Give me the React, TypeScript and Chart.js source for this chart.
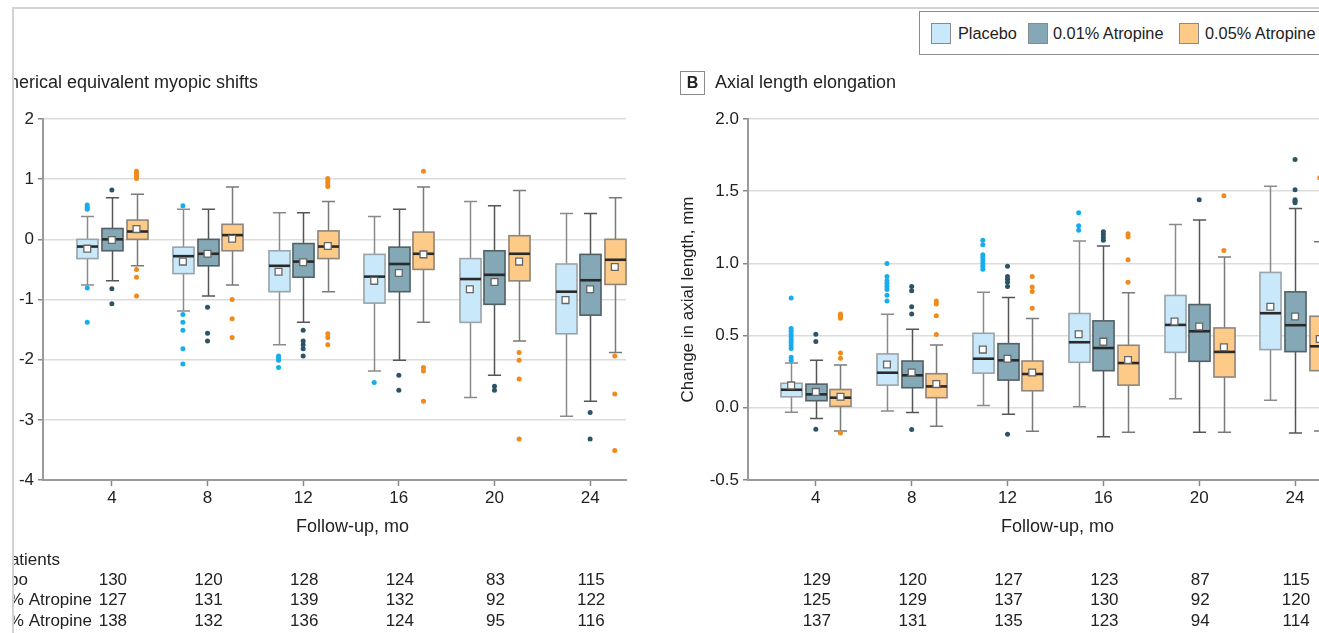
import React, { useEffect, useRef } from "react";
import { Chart, registerables } from "chart.js";
Chart.register(...registerables);

const FONT = '"Liberation Sans", Arial, sans-serif';

// ---------- shared categories ----------
const MONTHS = [4, 8, 12, 16, 20, 24];
const GROUPS = ["Placebo", "0.01% Atropine", "0.05% Atropine"];
const GROUP_OFFSETS = [-1.03, 0, 1.03];
const PATIENT_ROW_LABELS = ["Placebo", "0.01% Atropine", "0.05% Atropine"];
const X_TITLE = "Follow-up, mo";

// ---------- Panel A: spherical equivalent myopic shifts ----------
// box = [lower whisker, Q1, median, Q3, upper whisker]
const seBoxPlacebo = [
  [-0.76, -0.32, -0.12, 0.0, 0.38],
  [-1.19, -0.57, -0.28, -0.13, 0.5],
  [-1.75, -0.87, -0.44, -0.19, 0.44],
  [-2.19, -1.06, -0.62, -0.25, 0.38],
  [-2.63, -1.38, -0.66, -0.32, 0.63],
  [-2.94, -1.57, -0.87, -0.41, 0.43],
];
const seMeanPlacebo = [-0.155, -0.37, -0.54, -0.69, -0.83, -1.01];
const seOutPlacebo = [
  [0.57, 0.53, 0.5, -0.81, -1.38],
  [0.56, -1.25, -1.38, -1.51, -1.82, -2.07],
  [-1.94, -1.98, -2.01, -2.13],
  [-2.38],
  [],
  [],
];
const seBoxLow = [
  [-0.69, -0.19, 0.0, 0.18, 0.69],
  [-0.94, -0.44, -0.24, 0.0, 0.5],
  [-1.38, -0.63, -0.37, -0.07, 0.44],
  [-2.01, -0.87, -0.41, -0.13, 0.5],
  [-2.26, -1.08, -0.59, -0.19, 0.56],
  [-2.69, -1.26, -0.68, -0.25, 0.43],
];
const seMeanLow = [-0.01, -0.24, -0.38, -0.56, -0.71, -0.83];
const seOutLow = [
  [0.82, -0.82, -1.07],
  [-1.13, -1.56, -1.69],
  [-1.51, -1.69, -1.75, -1.82, -1.94],
  [-2.26, -2.51],
  [-2.44, -2.51],
  [-2.88, -3.32],
];
const seBoxHigh = [
  [-0.44, 0.0, 0.13, 0.32, 0.75],
  [-0.76, -0.19, 0.07, 0.25, 0.87],
  [-0.87, -0.32, -0.12, 0.14, 0.63],
  [-1.38, -0.5, -0.24, 0.12, 0.87],
  [-1.69, -0.69, -0.24, 0.06, 0.81],
  [-1.88, -0.75, -0.34, 0.0, 0.69],
];
const seMeanHigh = [0.17, 0.01, -0.11, -0.25, -0.37, -0.46];
const seOutHigh = [
  [1.13, 1.09, 1.05, 1.01, -0.5, -0.63, -0.94],
  [-1.0, -1.32, -1.63],
  [1.01, 0.96, 0.92, 0.88, -1.57, -1.63, -1.75],
  [1.13, -2.13, -2.19, -2.69],
  [-1.88, -2.01, -2.32, -3.32],
  [-1.94, -2.57, -3.51],
];
const seNPlacebo = [130, 120, 128, 124, 83, 115];
const seNLow = [127, 131, 139, 132, 92, 122];
const seNHigh = [138, 132, 136, 124, 95, 116];
const seYTicks = [-4, -3, -2, -1, 0, 1, 2];

// ---------- Panel B: axial length elongation ----------
const alBoxPlacebo = [
  [-0.03, 0.076, 0.125, 0.17, 0.31],
  [-0.023, 0.157, 0.243, 0.373, 0.648],
  [0.016, 0.24, 0.34, 0.516, 0.8],
  [0.007, 0.315, 0.454, 0.653, 1.155],
  [0.0625, 0.384, 0.574, 0.778, 1.27],
  [0.053, 0.403, 0.655, 0.9375, 1.535],
];
const alMeanPlacebo = [0.155, 0.3, 0.403, 0.509, 0.597, 0.7];
const alOutPlacebo = [
  [0.76, 0.55, 0.53, 0.51, 0.49, 0.47, 0.45, 0.43, 0.41, 0.35, 0.33],
  [1.0, 0.91, 0.88, 0.86, 0.84, 0.82, 0.78, 0.74],
  [1.16, 1.13, 1.06, 1.04, 1.02, 1.0, 0.98, 0.96],
  [1.35, 1.26, 1.23],
  [],
  [],
];
const alBoxLow = [
  [-0.074, 0.049, 0.093, 0.164, 0.33],
  [-0.032, 0.139, 0.225, 0.324, 0.544],
  [-0.044, 0.192, 0.329, 0.444, 0.764],
  [-0.201, 0.257, 0.414, 0.602, 1.12],
  [-0.169, 0.322, 0.53, 0.715, 1.3],
  [-0.174, 0.389, 0.572, 0.803, 1.38],
];
const alMeanLow = [0.11, 0.245, 0.34, 0.458, 0.5625, 0.632];
const alOutLow = [
  [0.51, 0.46, -0.148],
  [0.84, 0.81, 0.7, 0.65, -0.15],
  [0.98, 0.91, 0.89, 0.87, 0.84, -0.183],
  [1.22, 1.2, 1.18, 1.16],
  [1.44],
  [1.72, 1.51, 1.44, 1.43, 1.42],
];
const alBoxHigh = [
  [-0.16, 0.01, 0.07, 0.127, 0.296],
  [-0.127, 0.07, 0.148, 0.236, 0.435],
  [-0.162, 0.118, 0.234, 0.324, 0.618],
  [-0.169, 0.157, 0.31, 0.433, 0.796],
  [-0.169, 0.213, 0.387, 0.553, 1.044],
  [-0.16, 0.257, 0.426, 0.634, 1.15],
];
const alMeanHigh = [0.076, 0.164, 0.245, 0.331, 0.419, 0.477];
const alOutHigh = [
  [0.65, 0.635, 0.62, 0.38, 0.343, -0.174],
  [0.74, 0.718, 0.637, 0.507],
  [0.91, 0.836, 0.806, 0.69],
  [1.206, 1.185, 1.025, 0.87],
  [1.468, 1.09],
  [1.593],
];
const alNPlacebo = [129, 120, 127, 123, 87, 115];
const alNLow = [125, 129, 137, 130, 92, 120];
const alNHigh = [137, 131, 135, 123, 94, 114];
const alYTicks = [-0.5, 0, 0.5, 1.0, 1.5, 2.0];

// ---------- styles ----------
const STYLE = [
  { fill: "#c9e9fb", stroke: "#9aa3a8", whisker: "#8a8a8a", dot: "#17acef" },
  { fill: "#84a8b6", stroke: "#536066", whisker: "#555", dot: "#2b5566" },
  { fill: "#fdca88", stroke: "#8f8578", whisker: "#7a7a7a", dot: "#ef8a1b" },
];
const BOX_W = 0.88;
const CAP_W = 0.55;

type Group = { boxes: number[][]; means: number[]; outliers: number[][]; n: number[] };
type Panel = {
  groups: Group[];
  yMin: number;
  yMax: number;
  yTicks: number[];
  decimals: number;
  xMin: number;
  xMax: number;
  yAxisWidth: number;
  yTitle: string | null;
  padRight: number;
  rowLabels: boolean;
};

const panelA: Panel = {
  groups: [
    { boxes: seBoxPlacebo, means: seMeanPlacebo, outliers: seOutPlacebo, n: seNPlacebo },
    { boxes: seBoxLow, means: seMeanLow, outliers: seOutLow, n: seNLow },
    { boxes: seBoxHigh, means: seMeanHigh, outliers: seOutHigh, n: seNHigh },
  ],
  yMin: -4,
  yMax: 2,
  yTicks: seYTicks,
  decimals: 0,
  xMin: 1.12,
  xMax: 25.5,
  yAxisWidth: 43,
  yTitle: null,
  padRight: 24,
  rowLabels: true,
};
const panelB: Panel = {
  groups: [
    { boxes: alBoxPlacebo, means: alMeanPlacebo, outliers: alOutPlacebo, n: alNPlacebo },
    { boxes: alBoxLow, means: alMeanLow, outliers: alOutLow, n: alNLow },
    { boxes: alBoxHigh, means: alMeanHigh, outliers: alOutHigh, n: alNHigh },
  ],
  yMin: -0.5,
  yMax: 2,
  yTicks: alYTicks,
  decimals: 1,
  xMin: 1.17,
  xMax: 25.5,
  yAxisWidth: 78,
  yTitle: "Change in axial length, mm",
  padRight: 9,
  rowLabels: false,
};

const CANVAS_TOP = 60; // page y of canvases
const ROW_Y = [520, 540.5, 561]; // canvas y of patient rows
const HEADER_Y = 500;
const X_TITLE_Y = 467;
const X_TITLE_SHIFT = 18;

function buildConfig(p: Panel): any {
  const datasets: any[] = [];
  p.groups.forEach((g, gi) => {
    const pts: { x: number; y: number }[] = [];
    g.outliers.forEach((arr, i) => arr.forEach((v) => pts.push({ x: MONTHS[i] + GROUP_OFFSETS[gi], y: v })));
    datasets.push({
      label: GROUPS[gi] + " outliers",
      data: pts,
      pointRadius: 2.5,
      pointBackgroundColor: STYLE[gi].dot,
      pointBorderWidth: 0,
      showLine: false,
    });
  });
  p.groups.forEach((g, gi) => {
    datasets.push({
      label: GROUPS[gi] + " mean",
      data: g.means.map((v, i) => ({ x: MONTHS[i] + GROUP_OFFSETS[gi], y: v })),
      pointStyle: "rect",
      pointRadius: 4.8,
      pointBackgroundColor: "#ffffff",
      pointBorderColor: "#666",
      pointBorderWidth: 1.3,
      showLine: false,
    });
  });

  const boxPlugin = {
    id: "boxes",
    beforeDatasetsDraw(chart: any) {
      const { ctx } = chart;
      const x = chart.scales.x;
      const y = chart.scales.y;
      ctx.save();
      p.groups.forEach((g, gi) => {
        const st = STYLE[gi];
        g.boxes.forEach((b, i) => {
          const c = MONTHS[i] + GROUP_OFFSETS[gi];
          const cx = Math.round(x.getPixelForValue(c)) + 0.5;
          const half = (x.getPixelForValue(c + BOX_W / 2) - x.getPixelForValue(c - BOX_W / 2)) / 2;
          const capHalf = (x.getPixelForValue(c + CAP_W / 2) - x.getPixelForValue(c - CAP_W / 2)) / 2;
          const [lo, q1, med, q3, hi] = b.map((v) => y.getPixelForValue(v));
          ctx.strokeStyle = st.whisker;
          ctx.lineWidth = 1.5;
          ctx.beginPath();
          ctx.moveTo(cx, hi);
          ctx.lineTo(cx, q3);
          ctx.moveTo(cx, q1);
          ctx.lineTo(cx, lo);
          ctx.moveTo(cx - capHalf, hi);
          ctx.lineTo(cx + capHalf, hi);
          ctx.moveTo(cx - capHalf, lo);
          ctx.lineTo(cx + capHalf, lo);
          ctx.stroke();
          ctx.fillStyle = st.fill;
          ctx.fillRect(cx - half, q3, half * 2, q1 - q3);
          ctx.strokeStyle = st.stroke;
          ctx.lineWidth = 1.6;
          ctx.strokeRect(cx - half, q3, half * 2, q1 - q3);
          ctx.strokeStyle = "#2a2a2a";
          ctx.lineWidth = 2.6;
          ctx.beginPath();
          ctx.moveTo(cx - half, med);
          ctx.lineTo(cx + half, med);
          ctx.stroke();
        });
      });
      ctx.restore();
    },
  };

  const tablePlugin = {
    id: "patients",
    afterDraw(chart: any) {
      const { ctx, chartArea } = chart;
      const x = chart.scales.x;
      ctx.save();
      ctx.fillStyle = "#222";
      ctx.textBaseline = "middle";
      ctx.textAlign = "center";
      ctx.font = `18px ${FONT}`;
      ctx.fillText(X_TITLE, (chartArea.left + chartArea.right) / 2 + X_TITLE_SHIFT, X_TITLE_Y);
      ctx.font = `17px ${FONT}`;
      p.groups.forEach((g, gi) => {
        g.n.forEach((v, i) => ctx.fillText(String(v), x.getPixelForValue(MONTHS[i]) + 1, ROW_Y[gi]));
      });
      if (p.rowLabels) {
        ctx.textAlign = "right";
        ctx.fillText("No. of patients", 60, HEADER_Y);
        ctx.fillText(PATIENT_ROW_LABELS[0], 28, ROW_Y[0]);
        ctx.fillText(PATIENT_ROW_LABELS[1], 92, ROW_Y[1]);
        ctx.fillText(PATIENT_ROW_LABELS[2], 92, ROW_Y[2]);
      }
      ctx.restore();
    },
  };

  return {
    type: "scatter",
    data: { datasets },
    plugins: [boxPlugin, tablePlugin],
    options: {
      animation: false,
      responsive: false,
      events: [],
      layout: { padding: { top: 59, right: p.padRight, bottom: 0, left: 0 } },
      plugins: { legend: { display: false }, tooltip: { enabled: false } },
      scales: {
        x: {
          type: "linear",
          min: p.xMin,
          max: p.xMax,
          afterBuildTicks: (s: any) => {
            s.ticks = MONTHS.map((v) => ({ value: v }));
          },
          afterFit: (s: any) => {
            s.height = 153;
          },
          ticks: {
            autoSkip: false,
            maxRotation: 0,
            padding: 2,
            color: "#222",
            font: { family: FONT, size: 17 },
            callback: (v: any) => String(v),
          },
          grid: {
            display: true,
            drawOnChartArea: false,
            drawTicks: true,
            tickLength: 6,
            tickColor: "#888",
            tickWidth: 1.5,
          },
          border: { display: true, color: "#9a9a9a", width: 2 },
          title: { display: false },
        },
        y: {
          type: "linear",
          min: p.yMin,
          max: p.yMax,
          afterBuildTicks: (s: any) => {
            s.ticks = p.yTicks.map((v) => ({ value: v }));
          },
          afterFit: (s: any) => {
            s.width = p.yAxisWidth;
          },
          ticks: {
            padding: 4,
            color: "#222",
            font: { family: FONT, size: 17 },
            callback: (v: any) => Number(v).toFixed(p.decimals),
          },
          grid: {
            color: "#dcdcdc",
            lineWidth: 1.5,
            drawTicks: true,
            tickLength: 5,
            tickColor: "#888",
            tickWidth: 1.5,
          },
          border: { display: true, color: "#9a9a9a", width: 2 },
          title: {
            display: !!p.yTitle,
            text: p.yTitle || "",
            color: "#222",
            font: { family: FONT, size: 17 },
            padding: { top: 8, bottom: 0 },
          },
        },
      },
    },
  };
}

function BoxChart({ panel, left, width }: { panel: Panel; left: number; width: number }) {
  const ref = useRef<HTMLCanvasElement>(null);
  const height = 633 - CANVAS_TOP;
  useEffect(() => {
    const chart = new Chart(ref.current as HTMLCanvasElement, buildConfig(panel));
    return () => chart.destroy();
  }, [panel]);
  return (
    <canvas
      ref={ref}
      width={width}
      height={height}
      style={{ position: "absolute", left, top: CANVAS_TOP, width, height }}
    />
  );
}

function PanelLetter({ letter }: { letter: string }) {
  return (
    <div
      style={{
        width: 23,
        height: 22,
        border: "1.5px solid #8a8a8a",
        display: "flex",
        alignItems: "center",
        justifyContent: "center",
        fontWeight: 700,
        fontSize: 16,
        color: "#222",
      }}
    >
      {letter}
    </div>
  );
}

export default function App() {
  return (
    <div
      style={{
        position: "fixed",
        left: 0,
        top: 0,
        width: 1319,
        height: 633,
        background: "#fff",
        overflow: "hidden",
        fontFamily: FONT,
        color: "#222",
      }}
    >
      <div
        style={{
          position: "absolute",
          left: 12,
          top: 7,
          width: 1400,
          height: 700,
          borderLeft: "2px solid #d2d2d2",
          borderTop: "2px solid #d2d2d2",
        }}
      />
      <div style={{ position: "absolute", left: 14, top: 9, width: 1305, height: 624, overflow: "hidden" }}>
        <div style={{ position: "absolute", left: -14, top: -9, width: 1319, height: 633 }}>
          <BoxChart panel={panelA} left={0} width={650} />
          <BoxChart panel={panelB} left={670} width={670} />

          {/* Panel titles */}
          <div
            style={{
              position: "absolute",
              right: 1319 - 258,
              top: 70,
              height: 25,
              display: "flex",
              alignItems: "center",
              gap: 10,
              whiteSpace: "nowrap",
              fontSize: 18,
              lineHeight: "25px",
            }}
          >
            <PanelLetter letter="A" />
            <span>Spherical equivalent myopic shifts</span>
          </div>
          <div
            style={{
              position: "absolute",
              left: 680,
              top: 70,
              height: 25,
              display: "flex",
              alignItems: "center",
              gap: 10,
              whiteSpace: "nowrap",
              fontSize: 18,
              lineHeight: "25px",
            }}
          >
            <PanelLetter letter="B" />
            <span>Axial length elongation</span>
          </div>

          {/* Legend */}
          <div
            style={{
              position: "absolute",
              left: 919,
              top: 11,
              width: 500,
              height: 42,
              border: "1.5px solid #8c8c8c",
              background: "#fff",
            }}
          />
          {GROUPS.map((g, gi) => {
            const sw = [931, 1028, 1179][gi];
            const tx = [958, 1053, 1205][gi];
            return (
              <React.Fragment key={g}>
                <div
                  style={{
                    position: "absolute",
                    left: sw,
                    top: 23,
                    width: 18,
                    height: 19,
                    background: STYLE[gi].fill,
                    border: "1px solid #8a8a8a",
                  }}
                />
                <div
                  style={{
                    position: "absolute",
                    left: tx,
                    top: 22,
                    height: 22,
                    lineHeight: "22px",
                    fontSize: 16.3,
                    whiteSpace: "nowrap",
                  }}
                >
                  {g}
                </div>
              </React.Fragment>
            );
          })}
        </div>
      </div>
    </div>
  );
}
